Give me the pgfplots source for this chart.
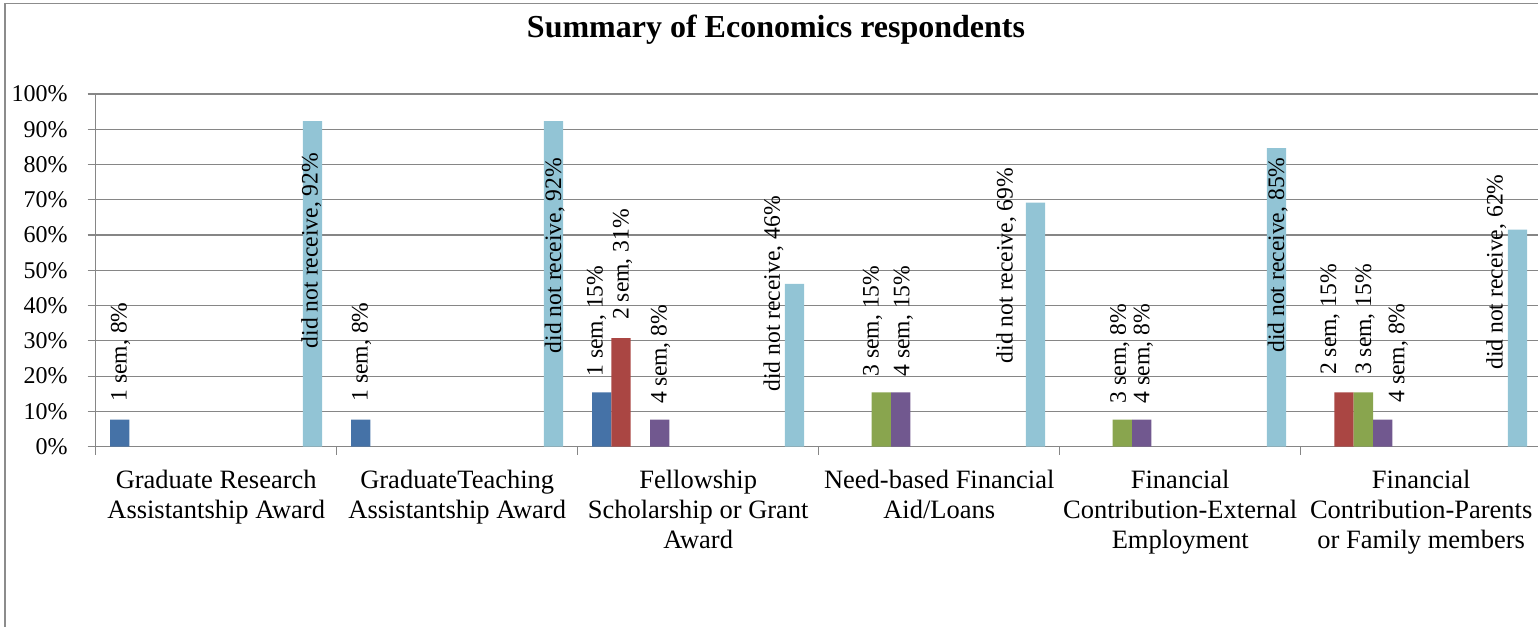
\documentclass[border=0pt]{standalone}
\usepackage{pgfplots}
\pgfplotsset{compat=1.18}
\usepackage{fontspec}
\setmainfont{Liberation Serif}
\definecolor{c1}{RGB}{69,114,167}
\definecolor{c2}{RGB}{170,70,67}
\definecolor{c3}{RGB}{137,165,78}
\definecolor{c4}{RGB}{113,88,143}
\definecolor{c5}{RGB}{146,196,213}
\definecolor{gridgray}{RGB}{134,134,134}
\definecolor{bordergray}{RGB}{140,140,140}
\tikzset{lab/.style={rotate=90, anchor=base west, inner sep=0pt, font=\fontsize{23.6}{26}\selectfont}}
\begin{document}
\begin{tikzpicture}[x=1pt,y=1pt]
\draw[draw=bordergray, line width=1.5pt] (5,-20) -- (5,622.5) -- (1560,622.5);
\node[font=\bfseries\fontsize{32}{36}\selectfont, anchor=base, inner sep=0pt] at (776,588.5) {Summary of Economics respondents};
\begin{axis}[
  at={(95.7pt,179.3pt)}, anchor=south west,
  scale only axis, width=1446pt, height=352.7pt,
  xmin=0, xmax=6, ymin=0, ymax=100,
  axis x line*=bottom, axis y line*=left,
  axis line style={draw=gridgray, line width=1.2pt},
  ymajorgrids, grid style={draw=gridgray, line width=1.2pt},
  ytick={0,10,...,100},
  yticklabels={0\%,10\%,20\%,30\%,40\%,50\%,60\%,70\%,80\%,90\%,100\%},
  yticklabel style={anchor=east, inner sep=0pt, xshift=-20pt, font=\fontsize{24}{28}\selectfont},
  xtick={0,1,2,3,4,5,6},
  xticklabels={,,,,,,},
  extra x ticks={0.5,1.5,2.5,3.5,4.5,5.5},
  extra x tick labels={Graduate Research\\Assistantship Award, GraduateTeaching\\Assistantship Award, Fellowship\\Scholarship or Grant\\Award, Need-based Financial\\Aid/Loans, Financial\\Contribution-External\\Employment, Financial\\Contribution-Parents\\or Family members},
  extra x tick style={major tick length=0pt, grid=none,
    tick label style={anchor=north, inner sep=0pt, align=center, font=\fontsize{26.5}{30}\selectfont, yshift=-23pt}},
  major tick length=8pt, tick align=outside,
  tick style={draw=gridgray, line width=1.2pt},
  ybar, bar width=19.28pt, clip=false,
]
\addplot[fill=c1, draw=none, bar shift=-96.4pt] coordinates {(0.5,7.69) (1.5,7.69) (2.5,15.38)};
\addplot[fill=c2, draw=none, bar shift=-77.12pt] coordinates {(2.5,30.77) (5.5,15.38)};
\addplot[fill=c3, draw=none, bar shift=-57.84pt] coordinates {(3.5,15.38) (4.5,7.69) (5.5,15.38)};
\addplot[fill=c4, draw=none, bar shift=-38.56pt] coordinates {(2.5,7.69) (3.5,15.38) (4.5,7.69) (5.5,7.69)};
\addplot[fill=c5, draw=none, bar shift=96.4pt] coordinates {(0.5,92.31) (1.5,92.31) (2.5,46.15) (3.5,69.23) (4.5,84.62) (5.5,61.54)};
\node[lab] at (axis cs:0.1286,12.76) {1 sem, 8\%};
\node[lab] at (axis cs:0.9212,27.9) {did not receive, 92\%};
\node[lab] at (axis cs:1.1286,12.76) {1 sem, 8\%};
\node[lab] at (axis cs:1.9307,26.48) {did not receive, 92\%};
\node[lab] at (axis cs:2.1037,19.85) {1 sem, 15\%};
\node[lab] at (axis cs:2.2116,35.92) {2 sem, 31\%};
\node[lab] at (axis cs:2.3693,12.11) {4 sem, 8\%};
\node[lab] at (axis cs:2.8394,15.59) {did not receive, 46\%};
\node[lab] at (axis cs:3.2490,19.85) {3 sem, 15\%};
\node[lab] at (axis cs:3.3759,19.85) {4 sem, 15\%};
\node[lab] at (axis cs:3.8050,23.65) {did not receive, 69\%};
\node[lab] at (axis cs:4.2749,12.30) {3 sem, 8\%};
\node[lab] at (axis cs:4.3718,12.30) {4 sem, 8\%};
\node[lab] at (axis cs:4.9307,26.57) {did not receive, 85\%};
\node[lab] at (axis cs:5.1465,20.33) {2 sem, 15\%};
\node[lab] at (axis cs:5.2917,20.33) {3 sem, 15\%};
\node[lab] at (axis cs:5.4299,12.48) {4 sem, 8\%};
\node[lab] at (axis cs:5.8382,21.75) {did not receive, 62\%};
\end{axis}
\pgfresetboundingbox
\path[use as bounding box] (0,0) rectangle (1538,626);
\end{tikzpicture}
\end{document}
